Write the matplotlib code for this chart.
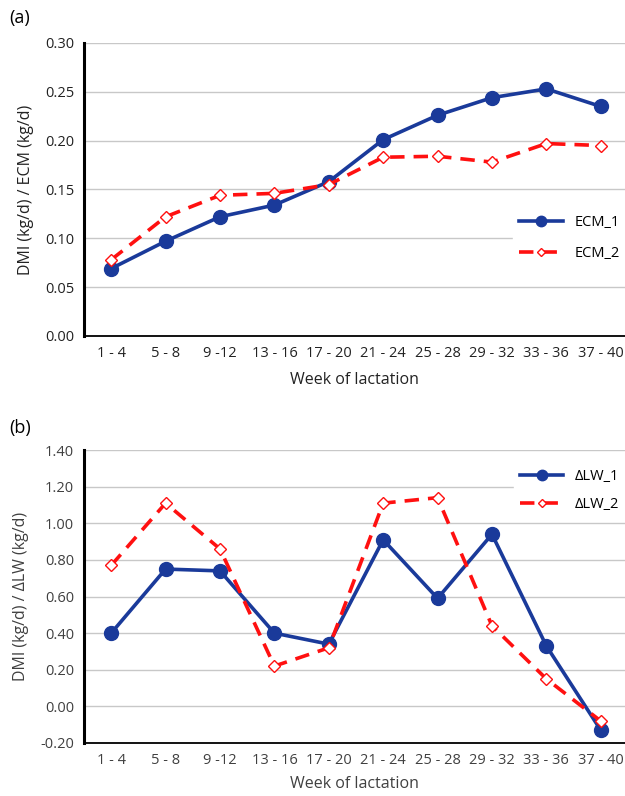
import matplotlib
matplotlib.use("Agg")
import matplotlib.pyplot as plt

plt.rcParams['font.family'] = ['Open Sans', 'DejaVu Sans']

weeks = ["1 - 4", "5 - 8", "9 -12", "13 - 16", "17 - 20", "21 - 24",
         "25 - 28", "29 - 32", "33 - 36", "37 - 40"]
ecm_1 = [0.069, 0.097, 0.122, 0.134, 0.158, 0.201, 0.226, 0.244, 0.253, 0.235]
ecm_2 = [0.078, 0.122, 0.144, 0.146, 0.155, 0.183, 0.184, 0.178, 0.197, 0.195]
lw_1 = [0.40, 0.75, 0.74, 0.40, 0.34, 0.91, 0.59, 0.94, 0.33, -0.13]
lw_2 = [0.77, 1.11, 0.86, 0.22, 0.32, 1.11, 1.14, 0.44, 0.15, -0.08]

BLUE = '#1a3a9a'
RED = '#ff1010'

fig = plt.figure(figsize=(6.25, 7.96), dpi=100)
axA = fig.add_axes([0.1344, 0.578, 0.866, 0.368])
axB = fig.add_axes([0.1344, 0.0666, 0.866, 0.368])

x = list(range(len(weeks)))

def style(ax, yticks, fmt, ylim, tickcolor):
    ax.set_xlim(-0.5, 9.45)
    ax.set_ylim(*ylim)
    ax.set_yticks(yticks)
    ax.set_yticklabels([fmt.format(v) for v in yticks], fontsize=10.5, color=tickcolor)
    ax.set_xticks(x)
    ax.set_xticklabels(weeks, fontsize=10.5, color=tickcolor)
    ax.grid(axis='y', color='#c8c8c8', lw=1.0)
    ax.set_axisbelow(True)
    for s in ['top', 'right']:
        ax.spines[s].set_visible(False)
    ax.spines['left'].set_linewidth(2.2)
    ax.spines['left'].set_color('black')
    ax.spines['bottom'].set_linewidth(1.3)
    ax.spines['bottom'].set_color('black')
    ax.tick_params(axis='both', length=0, pad=7)

# Panel (a)
axA.plot(x, ecm_1, color=BLUE, lw=2.6, marker='o', ms=10, label='ECM_1', zorder=3)
axA.plot(x, ecm_2, color=RED, lw=2.6, ls=(0, (4, 2.5)), marker='D', ms=6,
         mfc='white', mec=RED, mew=1.0, label='ECM_2', zorder=4)
style(axA, [0.0, 0.05, 0.10, 0.15, 0.20, 0.25, 0.30], '{:.2f}', (0, 0.30), '#222222')
axA.set_xlabel('Week of lactation', fontsize=11.5, color='#222222', labelpad=8)
axA.set_ylabel('DMI (kg/d) / ECM (kg/d)', fontsize=11.5, color='#222222', labelpad=8)
legA = axA.legend(loc='center right', bbox_to_anchor=(1.0, 0.335), frameon=True,
                  fontsize=10.5, handlelength=3, borderaxespad=0.0, labelspacing=1.1,
                  markerscale=0.75)
legA.get_frame().set_edgecolor('white')
legA.get_frame().set_facecolor('white')
legA.get_frame().set_alpha(1)

# Panel (b)
axB.plot(x, lw_1, color=BLUE, lw=2.6, marker='o', ms=10, label='ΔLW_1', zorder=3)
axB.plot(x, lw_2, color=RED, lw=2.6, ls=(0, (4, 2.5)), marker='D', ms=6,
         mfc='white', mec=RED, mew=1.0, label='ΔLW_2', zorder=4)
style(axB, [-0.2, 0.0, 0.2, 0.4, 0.6, 0.8, 1.0, 1.2, 1.4], '{:.2f}', (-0.2, 1.4), '#404040')
axB.set_xlabel('Week of lactation', fontsize=11.5, color='#404040', labelpad=6)
axB.set_ylabel('DMI (kg/d) / ΔLW (kg/d)', fontsize=11.5, color='#404040', labelpad=8)
legB = axB.legend(loc='upper right', bbox_to_anchor=(1.0, 0.955), frameon=True,
                  fontsize=10.5, handlelength=3, borderaxespad=0.0, labelspacing=0.9,
                  markerscale=0.75)
legB.get_frame().set_edgecolor('white')
legB.get_frame().set_facecolor('white')
legB.get_frame().set_alpha(1)

fig.text(0.015, 0.977, '(a)', fontsize=13, va='center', ha='left')
fig.text(0.015, 0.462, '(b)', fontsize=13, va='center', ha='left')

fig.savefig('out.png', dpi=100)
